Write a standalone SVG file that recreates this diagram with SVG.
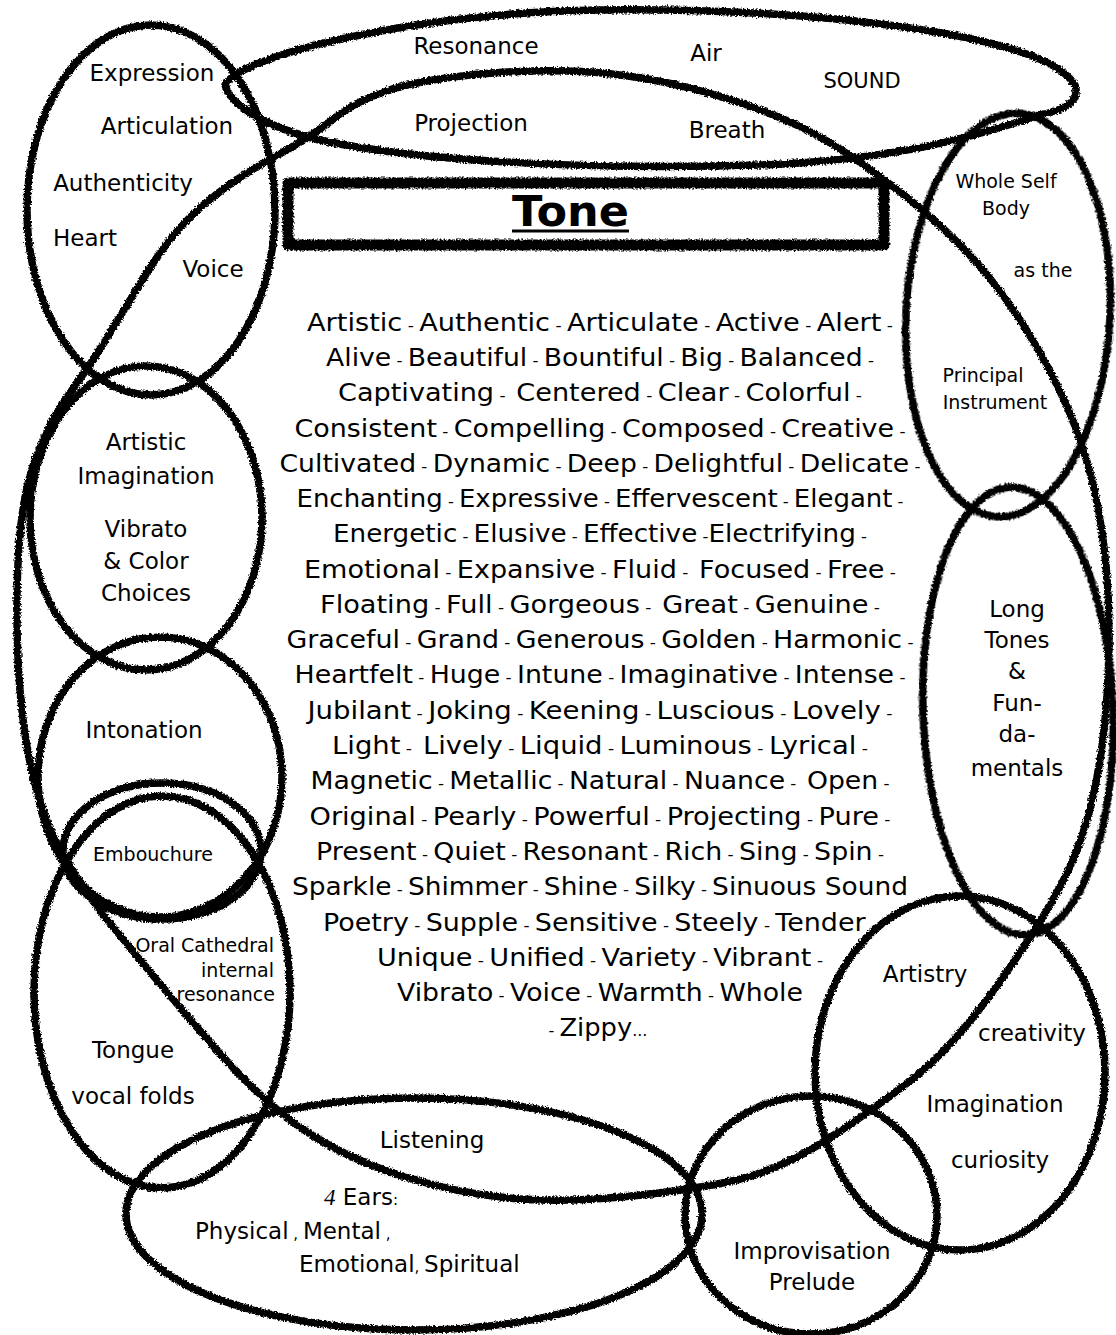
<svg xmlns="http://www.w3.org/2000/svg" width="1116" height="1335" viewBox="0 0 1116 1335">
<defs>
<filter id="rough" x="-10%" y="-10%" width="120%" height="120%">
<feTurbulence type="fractalNoise" baseFrequency="0.55" numOctaves="3" seed="7" result="noise"/>
<feDisplacementMap in="SourceGraphic" in2="noise" scale="4.5" xChannelSelector="R" yChannelSelector="G"/>
</filter>
</defs>
<style>
.s{fill:none;stroke:#000;stroke-width:7.5;stroke-linejoin:round;filter:url(#rough)}
.box{stroke-width:11}
text{font-family:'DejaVu Sans','Liberation Sans',sans-serif;fill:#000}
.l{font-size:23px;text-anchor:middle}
.sm{font-size:19px;text-anchor:middle}
.w{font-size:24px;text-anchor:middle}
.d{font-size:15px}
.p{font-size:15px}
</style>
<rect width="1116" height="1335" fill="#fff"/>

<g id="node-field">
<path class="s" d="M612,74 Q667,80 720.5,96.5 Q774,113 810,131.5 Q846,150 899.5,191.5 Q953,233 988.5,276.5 Q1024,320 1054.5,380 Q1085,440 1097.5,505 Q1110,570 1109,645 Q1108,720 1096.5,780 Q1085,840 1061,885 Q1037,930 995,988.5 Q953,1047 913,1078.5 Q873,1110 826.5,1140 Q780,1170 736.5,1180 Q693,1190 626.5,1196.5 Q560,1203 508.5,1198 Q457,1193 403.5,1176.5 Q350,1160 306.5,1131.5 Q263,1103 211.5,1044 Q160,985 113.5,927.5 Q67,870 48.5,825 Q30,780 22.5,715 Q15,650 17.5,575 Q20,500 35,460 Q50,420 68.5,395 Q87,370 102.5,345 Q118,320 144.5,276.5 Q171,233 201.5,206.5 Q232,180 271.5,158.5 Q311,137 334,118.5 Q357,100 393,89 Q429,78 493,73 Q557,68 612,74 Z"/>
<g class="w">
<text xml:space="preserve" x="600" y="331" textLength="586" lengthAdjust="spacingAndGlyphs">Artistic<tspan class="d"> - </tspan>Authentic<tspan class="d"> - </tspan>Articulate<tspan class="d"> - </tspan>Active<tspan class="d"> - </tspan>Alert<tspan class="d"> -</tspan></text>
<text xml:space="preserve" x="600" y="366" textLength="548" lengthAdjust="spacingAndGlyphs">Alive<tspan class="d"> - </tspan>Beautiful<tspan class="d"> - </tspan>Bountiful<tspan class="d"> - </tspan>Big<tspan class="d"> - </tspan>Balanced<tspan class="d"> -</tspan></text>
<text xml:space="preserve" x="600" y="401" textLength="524" lengthAdjust="spacingAndGlyphs">Captivating<tspan class="d"> -  </tspan>Centered<tspan class="d"> - </tspan>Clear<tspan class="d"> - </tspan>Colorful<tspan class="d"> -</tspan></text>
<text xml:space="preserve" x="600" y="437" textLength="611" lengthAdjust="spacingAndGlyphs">Consistent<tspan class="d"> - </tspan>Compelling<tspan class="d"> - </tspan>Composed<tspan class="d"> - </tspan>Creative<tspan class="d"> -</tspan></text>
<text xml:space="preserve" x="600" y="472" textLength="641" lengthAdjust="spacingAndGlyphs">Cultivated<tspan class="d"> - </tspan>Dynamic<tspan class="d"> - </tspan>Deep<tspan class="d"> - </tspan>Delightful<tspan class="d"> - </tspan>Delicate<tspan class="d"> -</tspan></text>
<text xml:space="preserve" x="600" y="507" textLength="607" lengthAdjust="spacingAndGlyphs">Enchanting<tspan class="d"> - </tspan>Expressive<tspan class="d"> - </tspan>Effervescent<tspan class="d"> - </tspan>Elegant<tspan class="d"> -</tspan></text>
<text xml:space="preserve" x="600" y="542" textLength="534" lengthAdjust="spacingAndGlyphs">Energetic<tspan class="d"> - </tspan>Elusive<tspan class="d"> - </tspan>Effective<tspan class="d"> -</tspan>Electrifying<tspan class="d"> -</tspan></text>
<text xml:space="preserve" x="600" y="578" textLength="592" lengthAdjust="spacingAndGlyphs">Emotional<tspan class="d"> - </tspan>Expansive<tspan class="d"> - </tspan>Fluid<tspan class="d"> -  </tspan>Focused<tspan class="d"> - </tspan>Free<tspan class="d"> -</tspan></text>
<text xml:space="preserve" x="600" y="613" textLength="560" lengthAdjust="spacingAndGlyphs">Floating<tspan class="d"> - </tspan>Full<tspan class="d"> - </tspan>Gorgeous<tspan class="d"> -  </tspan>Great<tspan class="d"> - </tspan>Genuine<tspan class="d"> -</tspan></text>
<text xml:space="preserve" x="600" y="648" textLength="627" lengthAdjust="spacingAndGlyphs">Graceful<tspan class="d"> - </tspan>Grand<tspan class="d"> - </tspan>Generous<tspan class="d"> - </tspan>Golden<tspan class="d"> - </tspan>Harmonic<tspan class="d"> -</tspan></text>
<text xml:space="preserve" x="600" y="683" textLength="611" lengthAdjust="spacingAndGlyphs">Heartfelt<tspan class="d"> - </tspan>Huge<tspan class="d"> - </tspan>Intune<tspan class="d"> - </tspan>Imaginative<tspan class="d"> - </tspan>Intense<tspan class="d"> -</tspan></text>
<text xml:space="preserve" x="600" y="719" textLength="585" lengthAdjust="spacingAndGlyphs">Jubilant<tspan class="d"> - </tspan>Joking<tspan class="d"> - </tspan>Keening<tspan class="d"> - </tspan>Luscious<tspan class="d"> - </tspan>Lovely<tspan class="d"> -</tspan></text>
<text xml:space="preserve" x="600" y="754" textLength="536" lengthAdjust="spacingAndGlyphs">Light<tspan class="d"> -  </tspan>Lively<tspan class="d"> - </tspan>Liquid<tspan class="d"> - </tspan>Luminous<tspan class="d"> - </tspan>Lyrical<tspan class="d"> -</tspan></text>
<text xml:space="preserve" x="600" y="789" textLength="579" lengthAdjust="spacingAndGlyphs">Magnetic<tspan class="d"> - </tspan>Metallic<tspan class="d"> - </tspan>Natural<tspan class="d"> - </tspan>Nuance<tspan class="d"> -  </tspan>Open<tspan class="d"> -</tspan></text>
<text xml:space="preserve" x="600" y="825" textLength="581" lengthAdjust="spacingAndGlyphs">Original<tspan class="d"> - </tspan>Pearly<tspan class="d"> - </tspan>Powerful<tspan class="d"> - </tspan>Projecting<tspan class="d"> - </tspan>Pure<tspan class="d"> -</tspan></text>
<text xml:space="preserve" x="600" y="860" textLength="568" lengthAdjust="spacingAndGlyphs">Present<tspan class="d"> - </tspan>Quiet<tspan class="d"> - </tspan>Resonant<tspan class="d"> - </tspan>Rich<tspan class="d"> - </tspan>Sing<tspan class="d"> - </tspan>Spin<tspan class="d"> -</tspan></text>
<text xml:space="preserve" x="600" y="895" textLength="616" lengthAdjust="spacingAndGlyphs">Sparkle<tspan class="d"> - </tspan>Shimmer<tspan class="d"> - </tspan>Shine<tspan class="d"> - </tspan>Silky<tspan class="d"> - </tspan>Sinuous Sound</text>
<text xml:space="preserve" x="600" y="931" textLength="554" lengthAdjust="spacingAndGlyphs">Poetry<tspan class="d"> - </tspan>Supple<tspan class="d"> - </tspan>Sensitive<tspan class="d"> - </tspan>Steely<tspan class="d"> - </tspan>Tender<tspan class="d"> -</tspan></text>
<text xml:space="preserve" x="600" y="966" textLength="446" lengthAdjust="spacingAndGlyphs">Unique<tspan class="d"> - </tspan>Unified<tspan class="d"> - </tspan>Variety<tspan class="d"> - </tspan>Vibrant<tspan class="d"> -</tspan></text>
<text xml:space="preserve" x="600" y="1001" textLength="406" lengthAdjust="spacingAndGlyphs">Vibrato<tspan class="d"> - </tspan>Voice<tspan class="d"> - </tspan>Warmth<tspan class="d"> - </tspan>Whole</text>
<text xml:space="preserve" x="598" y="1036" textLength="99" lengthAdjust="spacingAndGlyphs"><tspan class="d">- </tspan>Zippy<tspan class="d">...</tspan></text>
</g>
</g>

<g id="node-tone">
<rect class="s box" x="288" y="183" width="596" height="62"/>
<text x="570.5" y="226" font-size="42" font-weight="bold" text-anchor="middle" textLength="117" lengthAdjust="spacingAndGlyphs">Tone</text>
<line x1="512" y1="231" x2="629" y2="231" stroke="#000" stroke-width="3"/>
</g>

<g id="node-sound">
<path class="s" d="M225,85 C240,55 420,12 600,10 C800,8 1000,30 1060,70 C1090,92 1075,108 1040,115 C980,135 900,160 760,165 C600,170 420,162 320,140 C270,128 232,108 225,85 Z"/>
<text class="l" x="476" y="54">Resonance</text>
<text class="l" x="706" y="61">Air</text>
<text class="l" x="862" y="88" style="font-size:21px">SOUND</text>
<text class="l" x="471" y="131">Projection</text>
<text class="l" x="727" y="138">Breath</text>
</g>

<g id="node-expression">
<ellipse class="s" cx="151" cy="210" rx="124" ry="185"/>
<text class="l" x="152" y="81">Expression</text>
<text class="l" x="167" y="134">Articulation</text>
<text class="l" x="123" y="191">Authenticity</text>
<text class="l" x="85" y="246">Heart</text>
<text class="l" x="213" y="277">Voice</text>
</g>

<g id="node-wholeself">
<ellipse class="s" cx="1008" cy="315" rx="102" ry="202" transform="rotate(3 1008 315)"/>
<text class="sm" x="1006" y="188">Whole Self</text>
<text class="sm" x="1006" y="215">Body</text>
<text class="sm" x="1043" y="277">as the</text>
<text class="sm" x="983" y="382">Principal</text>
<text class="sm" x="995" y="409">Instrument</text>
</g>

<g id="node-artistic">
<ellipse class="s" cx="146" cy="518" rx="116" ry="152"/>
<text class="l" x="146" y="450">Artistic</text>
<text class="l" x="146" y="484">Imagination</text>
<text class="l" x="146" y="537">Vibrato</text>
<text class="l" x="146" y="569">&amp; Color</text>
<text class="l" x="146" y="601">Choices</text>
</g>

<g id="node-intonation">
<ellipse class="s" cx="160" cy="777" rx="122" ry="140"/>
<text class="l" x="144" y="738">Intonation</text>
</g>

<g id="node-embouchure">
<ellipse class="s" cx="162" cy="851" rx="99" ry="68"/>
<text class="sm" x="153" y="861">Embouchure</text>
</g>

<g id="node-tongue">
<ellipse class="s" cx="162" cy="992" rx="128" ry="196"/>
<text class="sm" x="274" y="952" style="text-anchor:end">Oral Cathedral</text>
<text class="sm" x="274" y="977" style="text-anchor:end">internal</text>
<text class="sm" x="275" y="1001" style="text-anchor:end">resonance</text>
<text class="l" x="133" y="1058">Tongue</text>
<text class="l" x="133" y="1104">vocal folds</text>
</g>

<g id="node-longtones">
<ellipse class="s" cx="1018" cy="711" rx="95" ry="224" transform="rotate(-2 1018 711)"/>
<text class="l" x="1017" y="617">Long</text>
<text class="l" x="1017" y="648">Tones</text>
<text class="l" x="1017" y="679">&amp;</text>
<text class="l" x="1017" y="711">Fun-</text>
<text class="l" x="1017" y="742">da-</text>
<text class="l" x="1017" y="776">mentals</text>
</g>

<g id="node-artistry">
<ellipse class="s" cx="960" cy="1073" rx="145" ry="177"/>
<text class="l" x="925" y="982">Artistry</text>
<text class="l" x="1032" y="1041">creativity</text>
<text class="l" x="995" y="1112">Imagination</text>
<text class="l" x="1000" y="1168">curiosity</text>
</g>

<g id="node-listening">
<ellipse class="s" cx="414" cy="1214" rx="288" ry="116"/>
<text class="l" x="432" y="1148">Listening</text>
<text x="324" y="1205" font-size="23"><tspan font-family="'Liberation Serif',serif" font-style="italic">4</tspan> Ears<tspan class="p">:</tspan></text>
<text x="195" y="1239" font-size="23" xml:space="preserve">Physical<tspan class="p"> , </tspan>Mental<tspan class="p"> ,</tspan></text>
<text x="299" y="1272" font-size="23" xml:space="preserve">Emotional<tspan class="p">, </tspan>Spiritual</text>
</g>

<g id="node-improvisation">
<ellipse class="s" cx="811" cy="1215" rx="126" ry="119"/>
<text class="l" x="812" y="1259">Improvisation</text>
<text class="l" x="812" y="1290">Prelude</text>
</g>

<g id="connectors"/>
</svg>
